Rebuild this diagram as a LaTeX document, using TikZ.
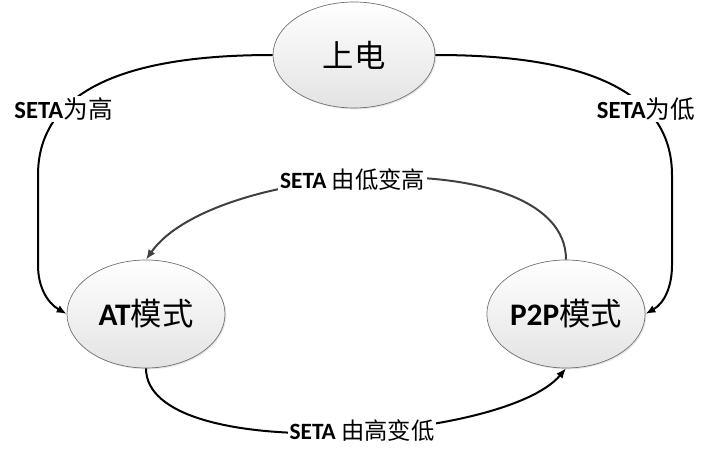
\documentclass[tikz,border=0pt]{standalone}
\usepackage{fontspec}
\setmainfont{Carlito}
\newfontfamily\cjk{Noto Sans CJK SC}
\usepackage{xcolor}
\usetikzlibrary{arrows.meta,shapes.geometric,shadows}
\definecolor{arcgray}{HTML}{404040}

\begin{document}
\begin{tikzpicture}[x=0.75pt,y=0.75pt,>={Latex[length=7.5pt,width=6pt]},line join=round,
  state/.style={ellipse,draw=gray!85!black,line width=0.5pt,top color=white,bottom color=gray!22,
    drop shadow={opacity=0.2,shadow xshift=1pt,shadow yshift=-1pt},
    minimum width=118.5pt,minimum height=81pt,inner sep=0pt,font=\fontsize{23.5}{28}\selectfont},
  lbl/.style={fill=white,inner sep=1.5pt,font=\fontsize{17.5}{21}\selectfont},
  trans/.style={->,line width=1.5pt}]
  \useasboundingbox (0,0) rectangle (711,465);
  % states
  \node[state,minimum width=121.5pt,minimum height=79.5pt] (pwr) at (354,410) {\cjk 上电};
  \node[state] (atm) at (146,151) {\textbf{AT}{\cjk 模式}};
  \node[state] (p2p) at (566,151) {\textbf{P2P}{\cjk 模式}};
  % power-on transitions
  \draw[trans] (pwr.west) to[out=180,in=90] node[lbl,pos=0.73,font=\fontsize{18.5}{22}\selectfont] (lhi) {\textbf{SETA}{\cjk 为高}} (38,290)
    -- (38,200) to[out=-90,in=150] (atm.west);
  \draw[trans] (pwr.east) to[out=0,in=90] node[lbl,pos=0.73,font=\fontsize{18.5}{22}\selectfont] (llo) {\textbf{SETA}{\cjk 为低}} (672,290)
    -- (672,200) to[out=-90,in=30] (p2p.east);
  % mode changes
  \draw[trans,arcgray] (p2p.north) to[out=90,in=55,looseness=0.73]
    node[lbl,pos=0.55,text=black] (lup) {\textbf{SETA} {\cjk 由低变高}} (atm.north);
  \draw[trans] (atm.south) to[out=-90,in=-130,looseness=0.59]
    node[lbl,pos=0.55] (ldn) {\textbf{SETA} {\cjk 由高变低}} (p2p.south);
\end{tikzpicture}
\end{document}
